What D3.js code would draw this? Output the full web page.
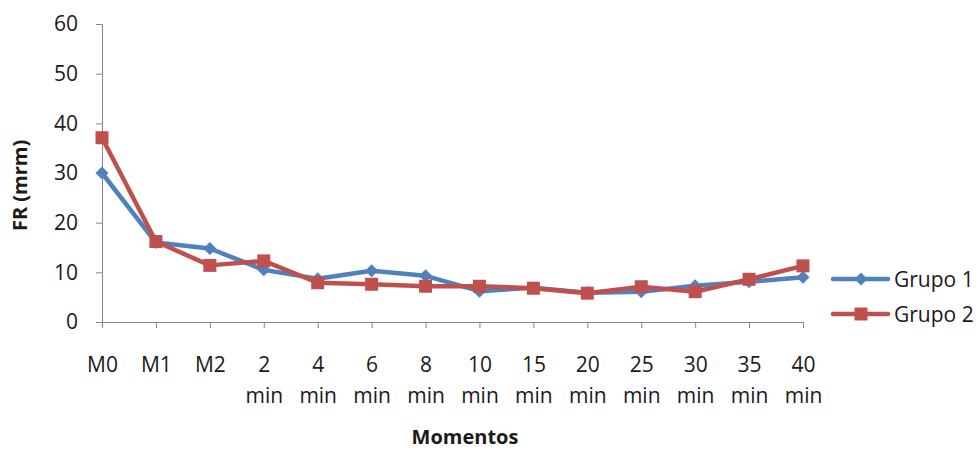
<!DOCTYPE html>
<html>
<head>
<meta charset="utf-8">
<script src="https://cdn.jsdelivr.net/npm/d3@7"></script>
<style>
  body { margin: 0; background: #fff; }
  text { font-family: "Open Sans", "Noto Sans", sans-serif; fill: #1a1a1a; }
</style>
</head>
<body>
<div id="chart"></div>
<script>
var categories = ["M0", "M1", "M2", "2 min", "4 min", "6 min", "8 min", "10 min",
                  "15 min", "20 min", "25 min", "30 min", "35 min", "40 min"];
var grupo1 = [30, 16, 14.8, 10.5, 8.7, 10.3, 9.3, 6.2, 6.9, 5.9, 6.1, 7.3, 8.1, 9.0];
var grupo2 = [37.1, 16.2, 11.4, 12.3, 7.9, 7.6, 7.2, 7.2, 6.8, 5.8, 7.1, 6.1, 8.6, 11.3];
var yTicks = [0, 10, 20, 30, 40, 50, 60];
var seriesNames = ["Grupo 1", "Grupo 2"];

var width = 980, height = 451;
var margin = {left: 102, right: 177, top: 24, bottom: 129};

var svg = d3.select("#chart").append("svg")
    .attr("width", width)
    .attr("height", height);

var x = d3.scalePoint()
    .domain(categories)
    .range([margin.left, width - margin.right]);

var y = d3.scaleLinear()
    .domain([0, 60])
    .range([height - margin.bottom, margin.top]);

var axisColor = "#868686";
var fontFam = "'Open Sans', 'Noto Sans', sans-serif";

// y axis
var yAxis = svg.append("g")
    .attr("transform", "translate(" + margin.left + ",0)")
    .call(d3.axisLeft(y).tickValues(yTicks).tickSize(6).tickPadding(18));
yAxis.select(".domain").attr("stroke", axisColor);
yAxis.selectAll(".tick line").attr("stroke", axisColor);
yAxis.selectAll(".tick text").attr("font-size", 21).attr("fill", "#1a1a1a")
    .attr("font-family", fontFam);

// x axis
var xAxis = svg.append("g")
    .attr("transform", "translate(0," + y(0) + ")")
    .call(d3.axisBottom(x).tickSize(6).tickSizeOuter(0).tickFormat(""));
xAxis.select(".domain").attr("stroke", axisColor);
xAxis.selectAll(".tick line").attr("stroke", axisColor);

var labels = xAxis.selectAll(".tick").append("text")
    .attr("text-anchor", "middle")
    .attr("font-size", 21)
    .attr("fill", "#1a1a1a");
labels.each(function(d) {
  var parts = d.split(" ");
  var t = d3.select(this);
  parts.forEach(function(p, i) {
    t.append("tspan").attr("x", 0).attr("y", 50 + i * 31).text(p);
  });
});

// axis titles
svg.append("text")
    .attr("transform", "translate(27," + y(27.5) + ") rotate(-90)")
    .attr("text-anchor", "middle")
    .attr("font-size", 20)
    .attr("font-weight", "bold")
    .text("FR (mrm)");

svg.append("text")
    .attr("x", 465)
    .attr("y", 444)
    .attr("text-anchor", "middle")
    .attr("font-size", 20)
    .attr("font-weight", "bold")
    .text("Momentos");

var line = d3.line()
    .x(function(d, i) { return x(categories[i]); })
    .y(function(d) { return y(d); });

var diamondPath = "M0,-6.5L6.5,0L0,6.5L-6.5,0Z";
var squarePath = "M-6.5,-6.5H6.5V6.5H-6.5Z";

var series = [
  {name: seriesNames[0], values: grupo1, color: "#4F81BD", marker: diamondPath},
  {name: seriesNames[1], values: grupo2, color: "#C0504D", marker: squarePath}
];

series.forEach(function(s) {
  svg.append("path")
      .datum(s.values)
      .attr("fill", "none")
      .attr("stroke", s.color)
      .attr("stroke-width", 4.5)
      .attr("stroke-linejoin", "round")
      .attr("d", line);
  svg.selectAll(null)
      .data(s.values)
    .enter().append("path")
      .attr("d", s.marker)
      .attr("fill", s.color)
      .attr("transform", function(d, i) {
        return "translate(" + x(categories[i]) + "," + y(d) + ")";
      });
});

// legend
var legend = svg.append("g").attr("transform", "translate(833,279)");
series.forEach(function(s, i) {
  var g = legend.append("g").attr("transform", "translate(0," + i * 35 + ")");
  g.append("line")
      .attr("x1", 0).attr("x2", 55)
      .attr("stroke", s.color)
      .attr("stroke-width", 4.5)
      .attr("stroke-linecap", "round");
  g.append("path")
      .attr("d", s.marker)
      .attr("fill", s.color)
      .attr("transform", "translate(28,0)");
  g.append("text")
      .attr("x", 61)
      .attr("dy", "0.36em")
      .attr("font-size", 21)
      .text(s.name);
});
</script>
</body>
</html>
